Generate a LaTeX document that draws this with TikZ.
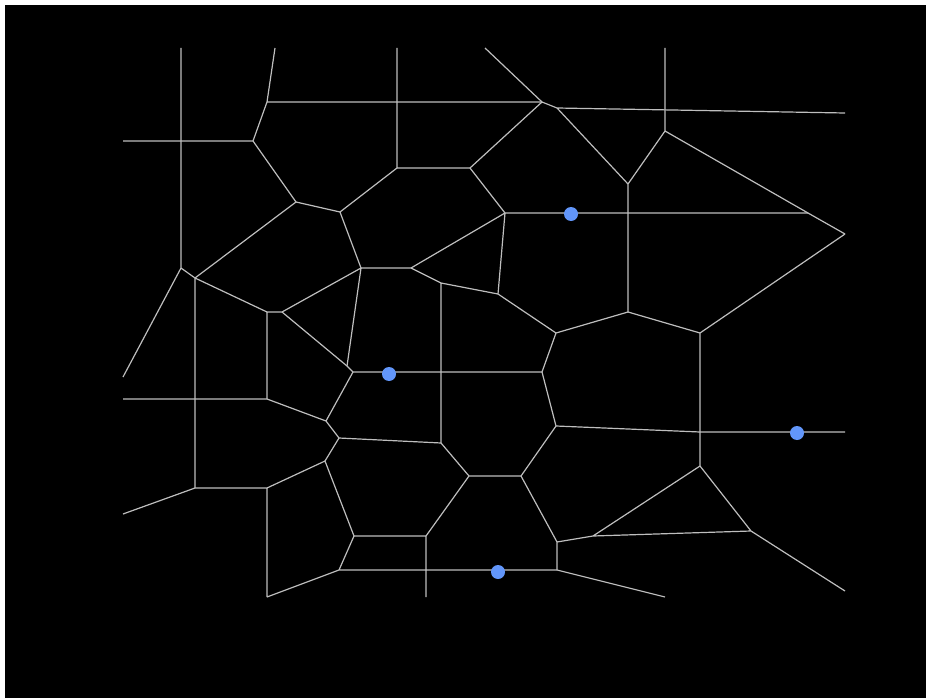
\documentclass[tikz,border=0pt]{standalone}
\definecolor{edgegray}{RGB}{190,190,190}
\definecolor{dotblue}{RGB}{98,150,250}
\tikzset{
  vedge/.style={draw=edgegray, line width=1.2pt},
  site/.style={circle, fill=dotblue, inner sep=0pt, minimum size=14pt}
}
\begin{document}
\begin{tikzpicture}[x=1pt,y=-1pt]
\fill[white] (0,0) rectangle (926,698);
\fill[black] (5,5) rectangle (926,698);
\useasboundingbox (0,0) rectangle (926,698);
% vertices
\coordinate (a1) at (181,48); \coordinate (a2) at (181,268);
\coordinate (b1) at (275,48); \coordinate (b2) at (267,102); \coordinate (b3) at (253,141); \coordinate (b4) at (123,141);
\coordinate (c1) at (296,202); \coordinate (c2) at (340,212); \coordinate (c3) at (397,168); \coordinate (c4) at (397,48); \coordinate (c5) at (470,168);
\coordinate (d1) at (485,48); \coordinate (d2) at (542,102); \coordinate (d3) at (557,108); \coordinate (d4) at (845,113);
\coordinate (e1) at (665,48); \coordinate (e2) at (665,131); \coordinate (e3) at (628,184); \coordinate (e4) at (808,213); \coordinate (e5) at (845,234);
\coordinate (f1) at (505,213); \coordinate (f2) at (361,268); \coordinate (f3) at (411,268); \coordinate (f4) at (441,283); \coordinate (f5) at (498,294);
\coordinate (g1) at (195,278); \coordinate (g2) at (123,377); \coordinate (g3) at (267,312); \coordinate (g4) at (282,312); \coordinate (g5) at (347,366); \coordinate (g6) at (353,372); \coordinate (g7) at (542,372);
\coordinate (h1) at (556,333); \coordinate (h2) at (628,312); \coordinate (h3) at (700,333);
\coordinate (i1) at (123,399); \coordinate (i2) at (267,399); \coordinate (i3) at (326,421); \coordinate (i4) at (339,438); \coordinate (i5) at (441,443); \coordinate (i6) at (556,426); \coordinate (i7) at (700,432); \coordinate (i8) at (845,432);
\coordinate (j1) at (325,461); \coordinate (j2) at (195,488); \coordinate (j3) at (123,514); \coordinate (j4) at (267,488); \coordinate (j5) at (267,597); \coordinate (j6) at (339,570); \coordinate (j7) at (354,536); \coordinate (j8) at (426,536); \coordinate (j9) at (426,597);
\coordinate (k1) at (469,476); \coordinate (k2) at (521,476); \coordinate (k3) at (557,542); \coordinate (k4) at (557,570); \coordinate (k5) at (665,597); \coordinate (k6) at (593,536); \coordinate (k7) at (751,531); \coordinate (k8) at (700,466); \coordinate (k9) at (845,591);
% edges
\draw[vedge] (a1)--(a2) (a2)--(g1) (a2)--(g2);
\draw[vedge] (b1)--(b2) (b2)--(d2) (b2)--(b3) (b3)--(b4) (b3)--(c1);
\draw[vedge] (c1)--(c2) (c1)--(g1) (c2)--(c3) (c2)--(f2) (c3)--(c4) (c3)--(c5);
\draw[vedge] (d1)--(d2) (d2)--(d3) (d3)--(d4) (d2)--(c5) (d3)--(e3);
\draw[vedge] (e1)--(e2) (e2)--(e3) (e2)--(e4) (e4)--(e5) (e3)--(h2);
\draw[vedge] (c5)--(f1) (f1)--(e4) (f1)--(f3) (f1)--(f5);
\draw[vedge] (f2)--(f3) (f3)--(f4) (f4)--(f5) (f4)--(i5) (f2)--(g5);
\draw[vedge] (g1)--(g3) (g1)--(j2) (g3)--(g4) (g4)--(f2) (g4)--(g5) (g5)--(g6) (g6)--(g7) (g3)--(i2);
\draw[vedge] (f5)--(h1) (h1)--(h2) (h2)--(h3) (h3)--(e5) (h1)--(g7) (g7)--(i6) (h3)--(i7) (i7)--(k8);
\draw[vedge] (i1)--(i2) (i2)--(i3) (g6)--(i3) (i3)--(i4) (i4)--(i5) (i4)--(j1) (i6)--(i7) (i7)--(i8);
\draw[vedge] (j2)--(j3) (j2)--(j4) (j4)--(j1) (j4)--(j5) (j5)--(j6) (j1)--(j7) (j7)--(j8) (j7)--(j6) (j8)--(j9) (j6)--(k4);
\draw[vedge] (i5)--(k1) (k1)--(k2) (k2)--(i6) (k1)--(j8) (k2)--(k3) (k3)--(k4) (k4)--(k5) (k3)--(k6) (k6)--(k7) (k6)--(k8) (k8)--(k7) (k7)--(k9);
% sites
\node[site] (s1) at (571,214) {};
\node[site] (s2) at (389,374) {};
\node[site] (s3) at (797,433) {};
\node[site] (s4) at (498,572) {};
\end{tikzpicture}
\end{document}
